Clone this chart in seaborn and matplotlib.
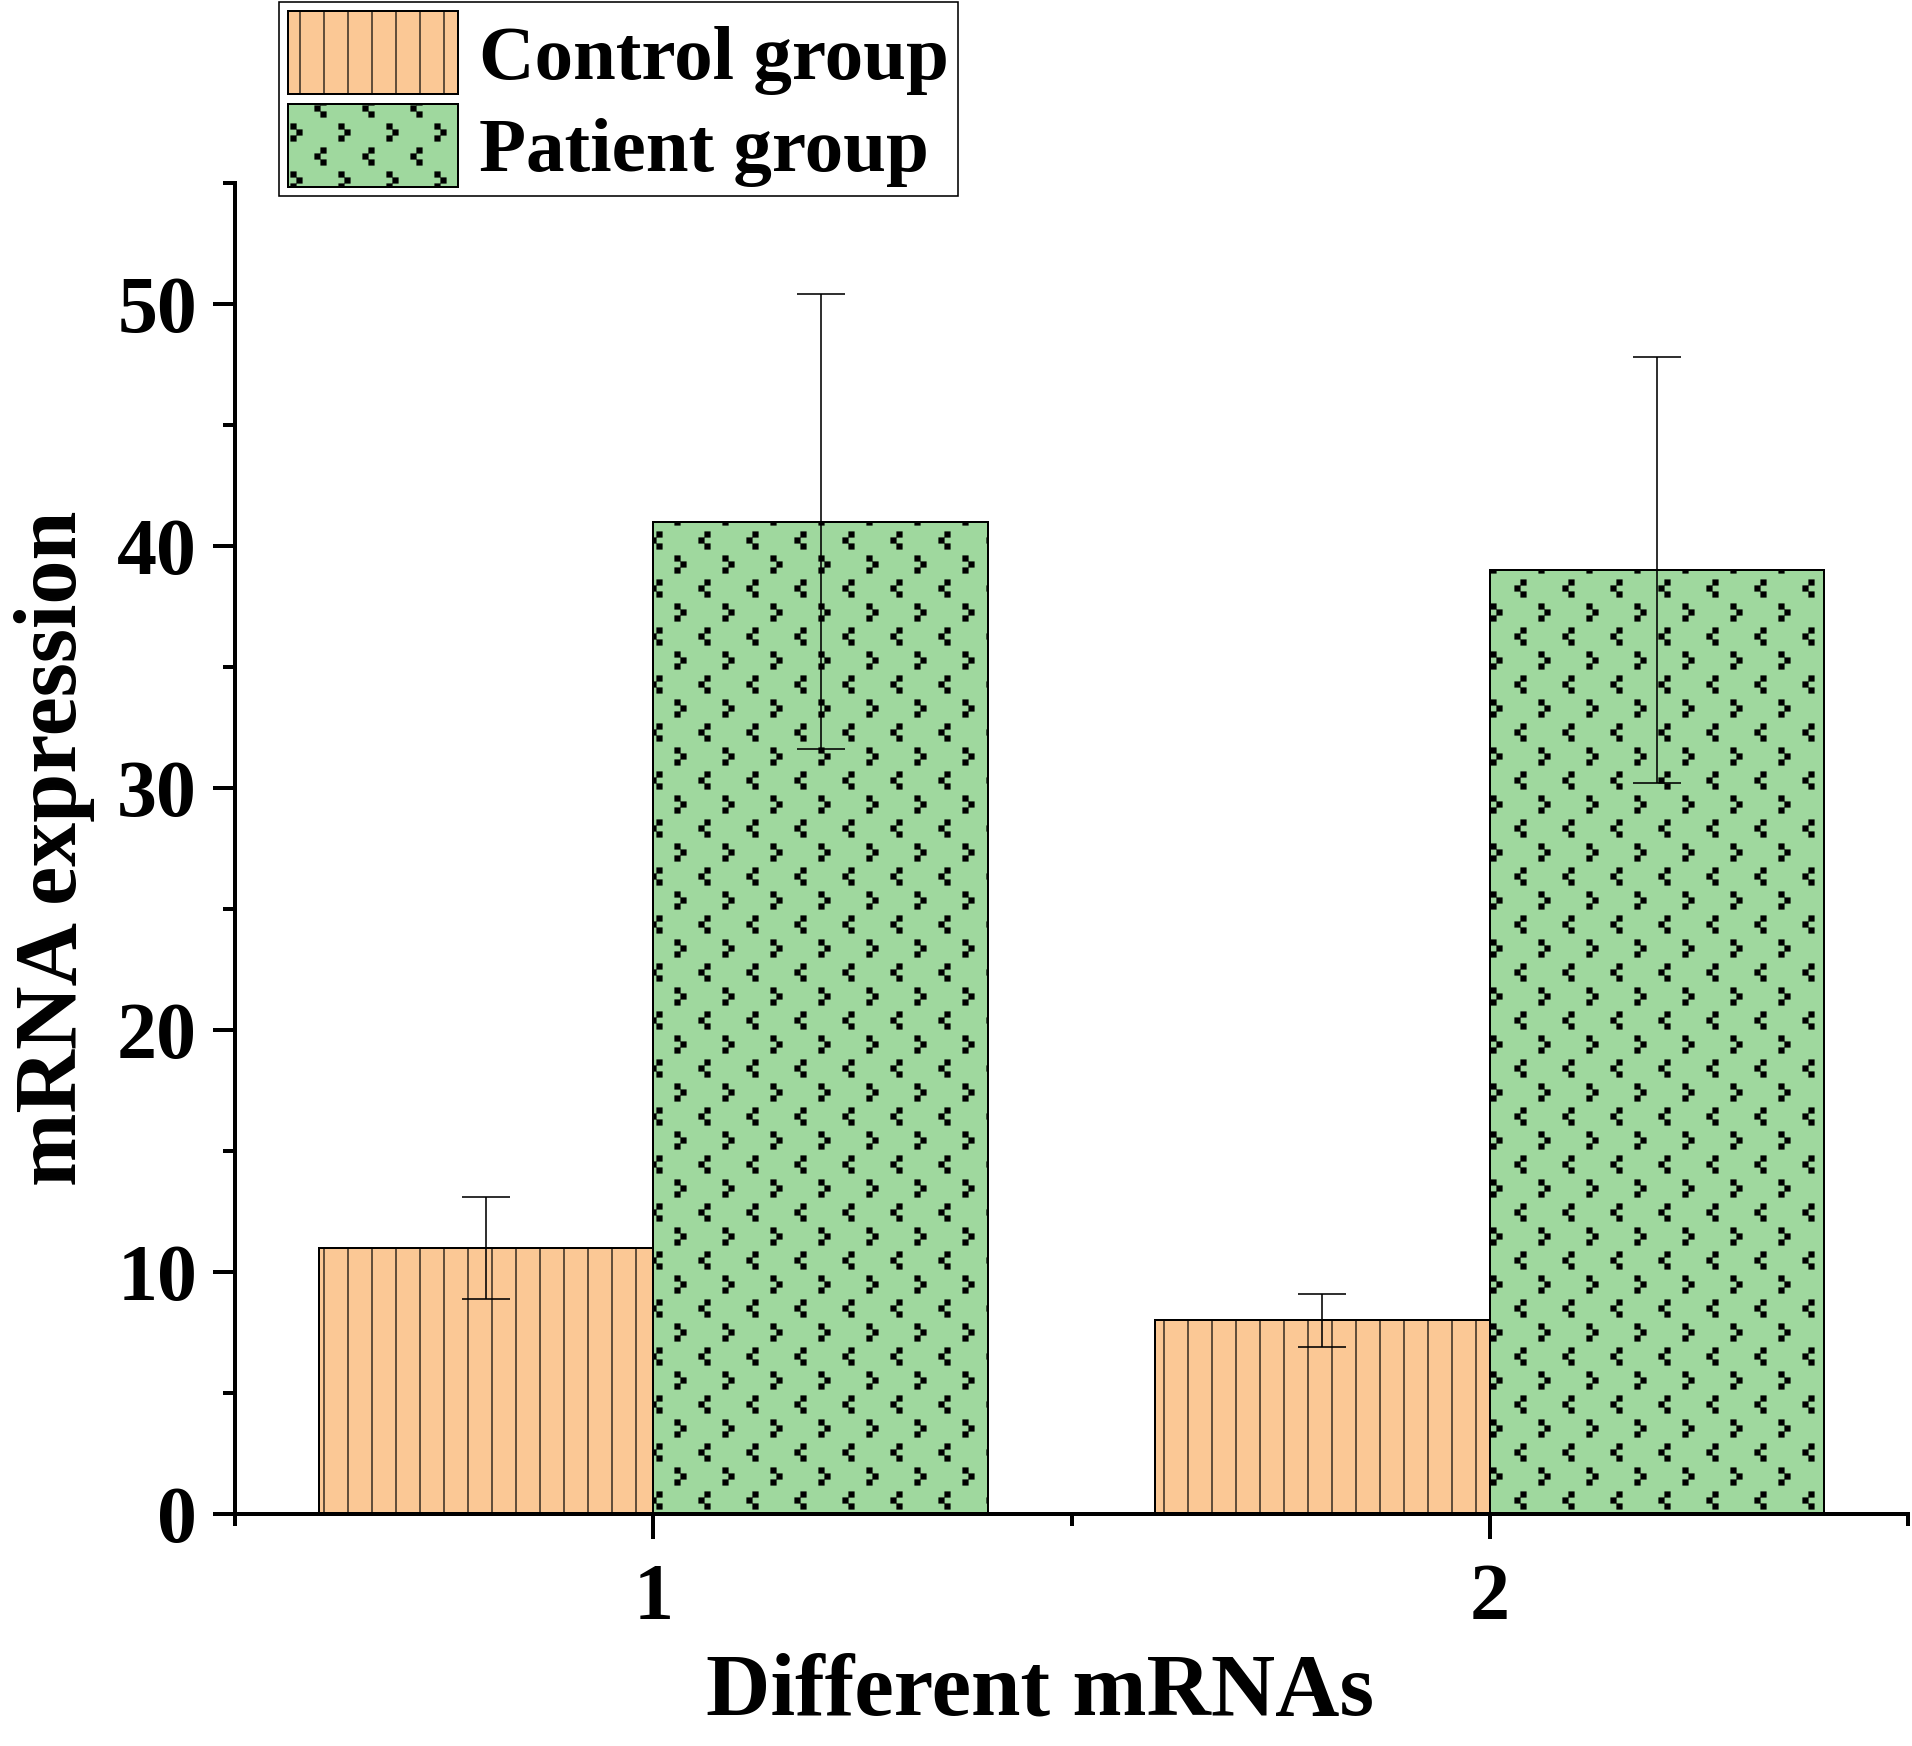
import numpy as np
import pandas as pd
import matplotlib
matplotlib.use("Agg")
import matplotlib.pyplot as plt
import matplotlib.hatch as mhatch
from matplotlib.path import Path
import seaborn as sns

# ---------------- data ----------------
mrnas = ["1", "2"]
groups = ["Control group", "Patient group"]
control_vals = [11.0, 8.0]
patient_vals = [41.0, 39.0]
control_err = [2.1, 1.1]
patient_err = [9.4, 8.8]
colors = ["#FBC895", "#9FD89E"]
hatches = ["|", "c"]

# ---------------- custom "chevron" hatch ----------------
DPI = 144


class ChevronHatch(mhatch.HatchPatternBase):
    """Staggered pixel-style < and > marks (tile = 1 inch = DPI px)."""

    def __init__(self, hatch, density):
        self.on = "c" in hatch
        squares = []
        if self.on:
            per = 48.0
            for i in range(3):
                for j in range(3):
                    x0, y0 = per * i + 3, per * j + 3
                    for dx, dy in [(0, 0), (6, 6), (0, 12)]:
                        squares.append((x0 + dx, y0 + dy))
                    x1, y1 = per * i + 27, per * j + 27
                    for dx, dy in [(6, 0), (0, 6), (6, 12)]:
                        squares.append((x1 + dx, y1 + dy))
        self.squares = squares
        self.size = 5.0
        self.num_vertices = len(squares) * 5

    def set_vertices_and_codes(self, vertices, codes):
        s = self.size
        k = 0
        for (x, y) in self.squares:
            pts = [(x, y), (x + s, y), (x + s, y + s), (x, y + s), (x, y)]
            for n, (px, py) in enumerate(pts):
                vertices[k] = (px / DPI, py / DPI)
                if n == 0:
                    codes[k] = Path.MOVETO
                elif n == 4:
                    codes[k] = Path.CLOSEPOLY
                else:
                    codes[k] = Path.LINETO
                k += 1


mhatch._hatch_types.append(ChevronHatch)
mhatch._validate_hatch_pattern = lambda h: None

# ---------------- style ----------------
sns.set_style("ticks")
plt.rcParams["font.family"] = ["Liberation Serif", "DejaVu Serif"]
plt.rcParams["font.weight"] = "bold"
plt.rcParams["axes.labelweight"] = "bold"
plt.rcParams["text.color"] = "black"
plt.rcParams["axes.labelcolor"] = "black"
plt.rcParams["xtick.color"] = "black"
plt.rcParams["ytick.color"] = "black"
plt.rcParams["hatch.linewidth"] = 0.6
plt.rcParams["hatch.color"] = "black"

df = pd.DataFrame({
    "mRNA": mrnas * 2,
    "group": [groups[0]] * len(mrnas) + [groups[1]] * len(mrnas),
    "expr": control_vals + patient_vals,
})

fig = plt.figure(figsize=(1912 / DPI, 1746 / DPI), dpi=DPI)
ax = fig.add_axes([235 / 1912, 0.1329, (1908 - 235) / 1912, 0.8952 - 0.1329])

sns.barplot(data=df, x="mRNA", y="expr", hue="group", order=mrnas,
            hue_order=groups, palette=colors, saturation=1, width=0.8,
            errorbar=None, edgecolor="black", linewidth=1.0, ax=ax,
            legend=False)

errs = [control_err, patient_err]
vals = [control_vals, patient_vals]
for cont, h, e, v in zip(ax.containers, hatches, errs, vals):
    xs = []
    for p in cont.patches:
        p.set_hatch(h)
        xs.append(p.get_x() + p.get_width() / 2)
    ax.errorbar(xs, v, yerr=e, fmt="none", ecolor="black", elinewidth=0.8,
                capsize=12, capthick=0.8, zorder=3)

ax.set_xlim(-0.5, 1.5)
ax.set_ylim(0, 55)
ax.set_yticks(np.arange(0, 51, 10))
ax.set_yticks(np.arange(5, 56, 10), minor=True)
ax.set_xticks([0, 1])
ax.set_xticklabels(mrnas)
ax.set_xticks([-0.5, 0.5, 1.5], minor=True)

for side in ["top", "right"]:
    ax.spines[side].set_visible(False)
for side in ["left", "bottom"]:
    ax.spines[side].set_linewidth(2.0)
    ax.spines[side].set_color("black")

ax.tick_params(axis="y", which="major", length=11, width=2, labelsize=40,
               pad=8, direction="out", colors="black")
ax.tick_params(axis="y", which="minor", length=6, width=2, direction="out")
ax.tick_params(axis="x", which="major", length=12.5, width=2, labelsize=40,
               pad=12, direction="out", colors="black")
ax.tick_params(axis="x", which="minor", length=6, width=2, direction="out")
for lab in ax.get_xticklabels() + ax.get_yticklabels():
    lab.set_fontweight("bold")

ax.set_xlabel("Different mRNAs", fontsize=44.5, fontweight="bold",
              color="black")
ax.xaxis.set_label_coords(0.481, -0.104)
ax.xaxis.label.set_verticalalignment("top")
ax.set_ylabel("mRNA expression", fontsize=44, fontweight="bold",
              labelpad=11, color="black")

leg = ax.legend(handles=list(ax.containers), labels=groups,
                loc="upper left", bbox_to_anchor=(279 / 1912, 1 - 2 / 1746),
                bbox_transform=fig.transFigure, borderaxespad=0,
                prop={"family": "Liberation Serif", "weight": "bold", "size": 38.5},
                frameon=True, fancybox=False, framealpha=1, edgecolor="black",
                handlelength=2.2, handleheight=1.28, handletextpad=0.28,
                labelspacing=0.12, borderpad=0.12)
leg.get_frame().set_linewidth(0.8)
for t in leg.get_texts():
    t.set_color("black")

fig.savefig("out.png", dpi=DPI)
